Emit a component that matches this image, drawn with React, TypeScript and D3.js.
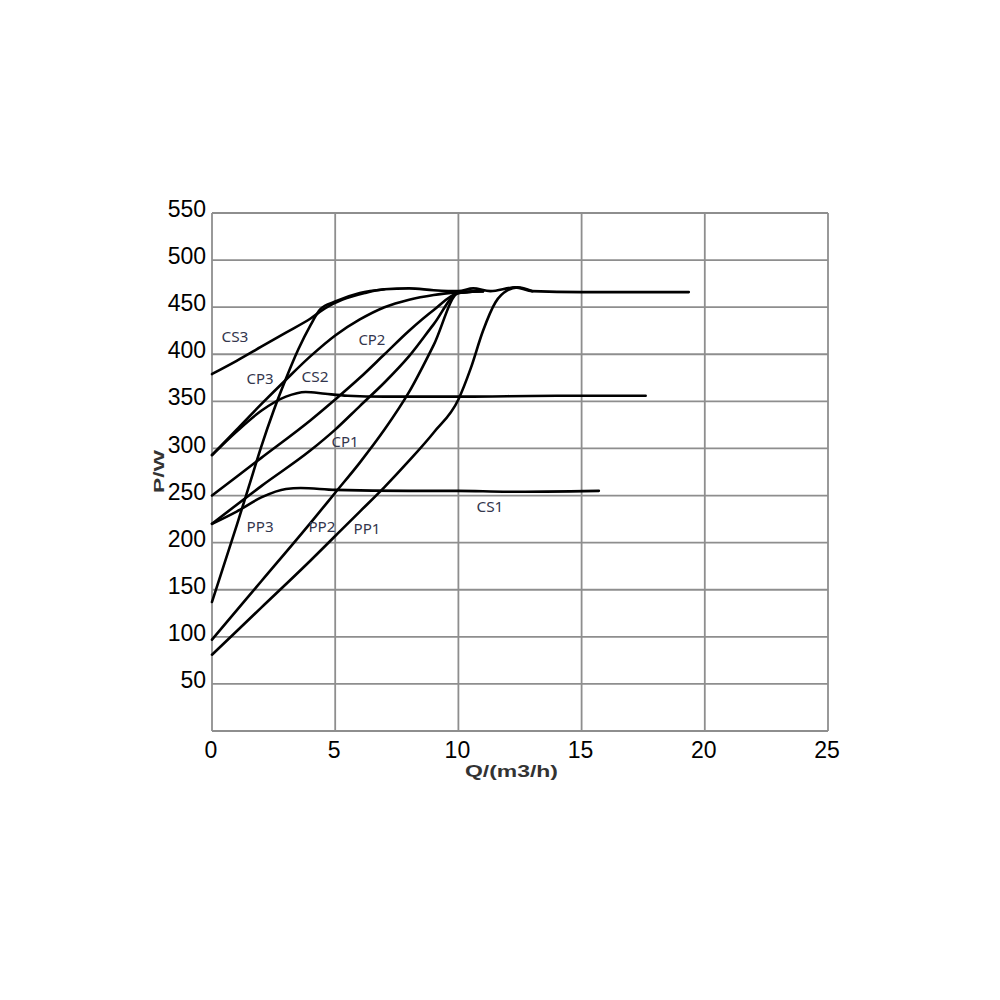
import { useEffect, useRef } from "react";
import { select, scaleLinear, line, curveMonotoneX } from "d3";

// power curves, Q in m3/h, P in W
const cs1 = [[0, 220], [1, 233], [2, 248], [3, 257], [3.6, 258], [5, 256], [8, 255], [10, 255], [12, 254], [15.7, 255]];
const cs2 = [[0, 293], [1, 318], [2, 340], [3, 355], [3.8, 360], [4.6, 358], [5.5, 356], [7, 355], [10, 355], [14, 356], [17.6, 356]];
const cs3 = [[0, 379], [1, 393], [2, 408], [3, 423], [4, 438], [4.6, 449], [5.3, 458], [6.2, 465], [7, 469], [8, 470], [9, 468], [10, 467], [10.6, 470], [11.3, 467], [12.3, 471], [13, 467], [15, 466], [19.35, 466]];
const cp1 = [[0, 220], [2, 260], [4, 298], [5, 320], [6, 345], [7, 370], [8, 398], [9, 432], [10, 465], [11, 467]];
const cp2 = [[0, 250], [2, 290], [4, 330], [5, 352], [6, 375], [7, 400], [8, 425], [9, 447], [10, 465], [11, 467]];
const cp3 = [[0, 293], [1, 320], [2, 347], [3, 373], [4, 398], [5, 420], [6, 437], [7, 450], [8, 458], [9, 463], [10, 466]];
const pp1 = [[0, 81], [2, 131], [4, 181], [5, 207], [6, 233], [7, 259], [8, 287], [9, 317], [10, 352], [10.5, 385], [11, 425], [11.5, 455], [12, 468], [12.4, 471], [13, 467]];
const pp2 = [[0, 97], [2, 159], [4, 221], [5, 253], [6, 285], [7, 320], [8, 360], [9, 410], [10, 465], [11, 467]];
const pp3 = [[0, 137], [1, 218], [1.5, 260], [2, 302], [2.5, 340], [3, 374], [3.5, 405], [4, 431], [4.4, 448], [5, 456], [6, 465], [7, 469]];

const seriesList = [cs1, cs2, cs3, cp1, cp2, cp3, pp1, pp2, pp3];

const labelText = ["CS3", "CP3", "CS2", "CP2", "CP1", "CS1", "PP3", "PP2", "PP1"];
const labelQ = [0.93, 1.95, 4.18, 6.49, 5.4, 11.28, 1.95, 4.46, 6.29];
const labelP = [418, 374, 376, 415, 307, 238, 217, 217, 214];

const xTicks = [0, 5, 10, 15, 20, 25];
const yTicks = [50, 100, 150, 200, 250, 300, 350, 400, 450, 500, 550];

export default function App() {
  const ref = useRef<SVGSVGElement>(null);

  useEffect(() => {
    if (!ref.current) return;
    const svg = select(ref.current);
    svg.selectAll("*").remove();

    const x = scaleLinear().domain([0, 25]).range([212, 828]);
    const y = scaleLinear().domain([0, 550]).range([731, 213]);
    const grid = "#8e8e8e";

    svg.append("rect").attr("width", 1000).attr("height", 1000).attr("fill", "#fff");

    const g = svg.append("g");
    g.selectAll("line.v")
      .data(xTicks)
      .join("line")
      .attr("x1", (d) => x(d))
      .attr("x2", (d) => x(d))
      .attr("y1", y(0))
      .attr("y2", y(550))
      .attr("stroke", grid)
      .attr("stroke-width", 1.8);
    g.selectAll("line.h")
      .data([0, ...yTicks])
      .join("line")
      .attr("x1", x(0))
      .attr("x2", x(25))
      .attr("y1", (d) => y(d))
      .attr("y2", (d) => y(d))
      .attr("stroke", grid)
      .attr("stroke-width", 1.8);

    const lineGen = line<number[]>()
      .x((d) => x(d[0]))
      .y((d) => y(d[1]))
      .curve(curveMonotoneX);
    svg.append("g")
      .selectAll("path")
      .data(seriesList)
      .join("path")
      .attr("d", (d) => lineGen(d) || "")
      .attr("fill", "none")
      .attr("stroke", "#000")
      .attr("stroke-width", 2.6)
      .attr("stroke-linejoin", "round")
      .attr("stroke-linecap", "round");

    // curve names, a condensed sans like the source
    svg.append("g")
      .selectAll("text")
      .data(labelText)
      .join("text")
      .attr("x", (_d, i) => x(labelQ[i]))
      .attr("y", (_d, i) => y(labelP[i]))
      .attr("dy", "0.35em")
      .attr("text-anchor", "middle")
      .attr("textLength", 27)
      .attr("lengthAdjust", "spacingAndGlyphs")
      .attr("font-family", "Noto Sans, sans-serif")
      .attr("font-size", 14)
      .attr("fill", "#33364d")
      .text((d) => d);

    const font = "Liberation Sans, Arial, sans-serif";
    svg.append("g")
      .selectAll("text")
      .data(yTicks)
      .join("text")
      .attr("x", 206)
      .attr("y", (d) => y(d) - 4)
      .attr("dy", "0.35em")
      .attr("text-anchor", "end")
      .attr("font-family", font)
      .attr("font-size", 23)
      .attr("fill", "#000")
      .text((d) => d);
    svg.append("g")
      .selectAll("text")
      .data(xTicks)
      .join("text")
      .attr("x", (d) => x(d) - 1)
      .attr("y", 758)
      .attr("text-anchor", "middle")
      .attr("font-family", font)
      .attr("font-size", 23)
      .attr("fill", "#000")
      .text((d) => d);

    svg.append("text")
      .attr("x", 465)
      .attr("y", 777)
      .attr("textLength", 93)
      .attr("lengthAdjust", "spacingAndGlyphs")
      .attr("font-family", font)
      .attr("font-weight", "bold")
      .attr("font-size", 16)
      .attr("fill", "#333")
      .text("Q/(m3/h)");
    svg.append("text")
      .attr("transform", "translate(164,493) rotate(-90)")
      .attr("textLength", 43)
      .attr("lengthAdjust", "spacingAndGlyphs")
      .attr("font-family", font)
      .attr("font-weight", "bold")
      .attr("font-size", 15)
      .attr("fill", "#333")
      .text("P/W");
  }, []);

  return (
    <div style={{ position: "absolute", left: 0, top: 0 }}>
      <svg ref={ref} width={1000} height={1000} viewBox="0 0 1000 1000" />
    </div>
  );
}
